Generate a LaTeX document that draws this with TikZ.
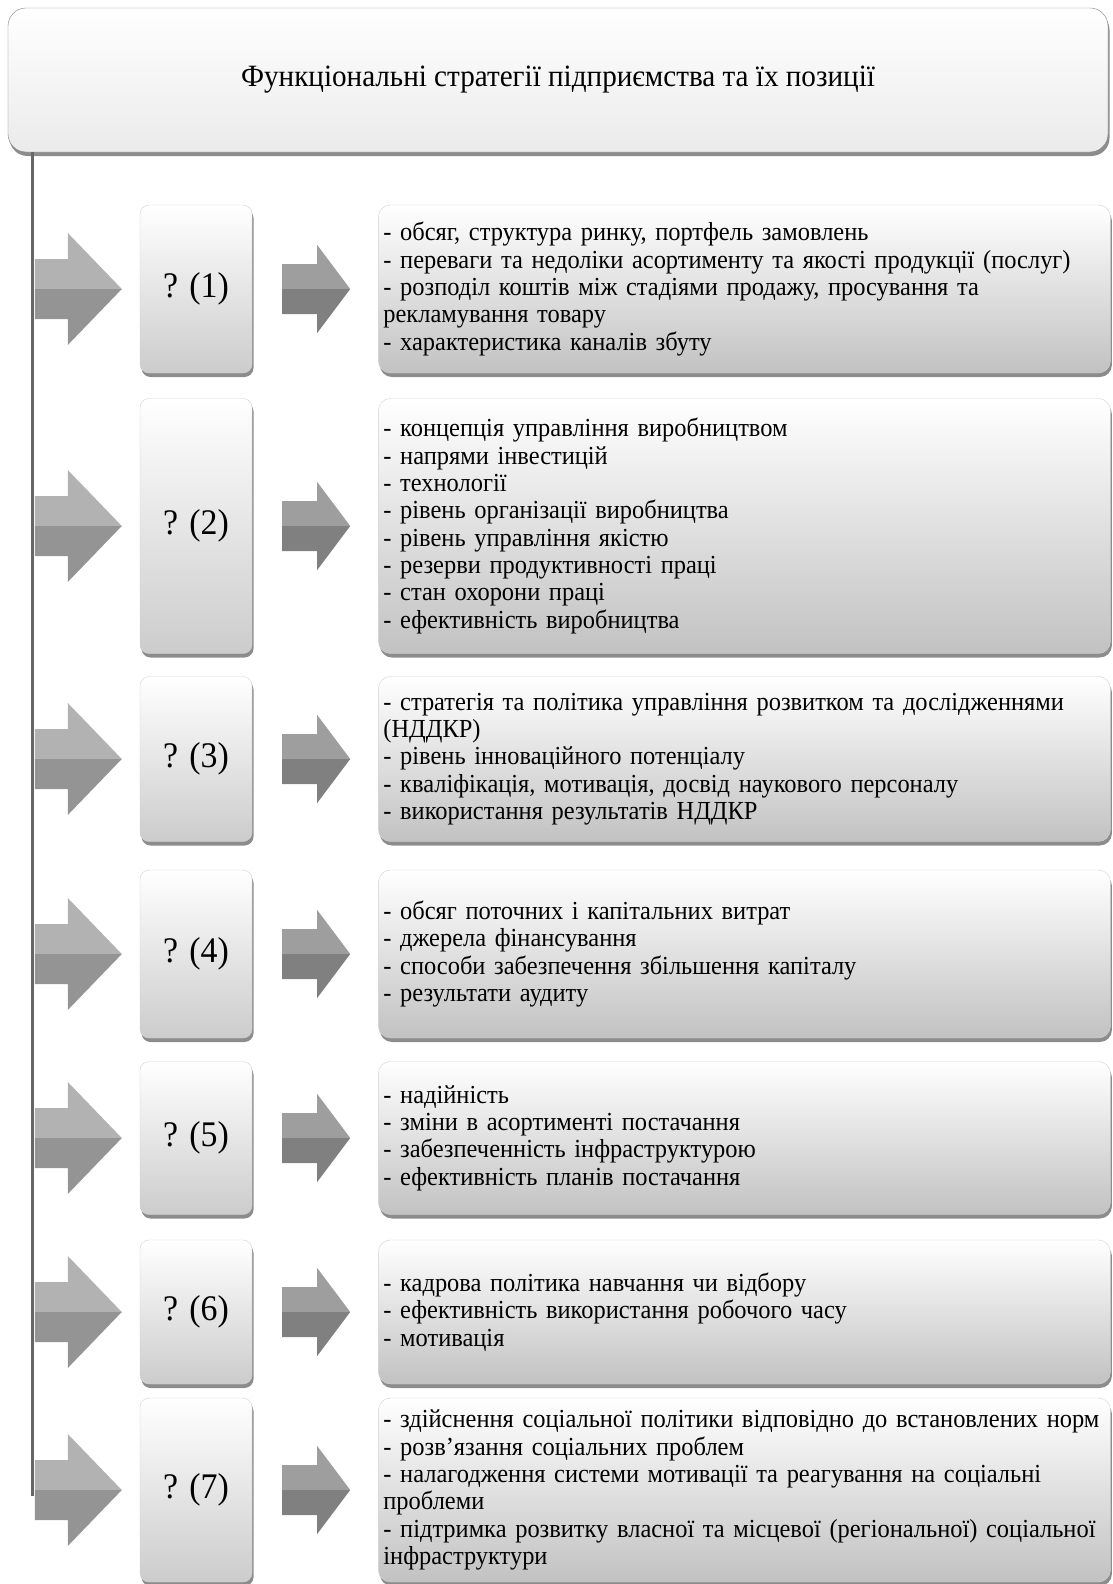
\documentclass[tikz,border=0pt]{standalone}
\usepackage{fontspec}
\setmainfont[FakeStretch=0.94]{Liberation Serif}
\usetikzlibrary{positioning,calc,shadows}

\begin{document}
\begin{tikzpicture}[x=1pt, y=-1pt,
    boxshadow/.style={drop shadow={shadow xshift=1.5pt, shadow yshift=-4pt, fill=black!60, opacity=.75}},
    head/.style={draw=black!50, rounded corners=18pt, top color=white, bottom color=black!8,
        minimum width=1100pt, minimum height=144pt, font=\fontsize{31}{36}\selectfont, boxshadow},
    qbox/.style={draw=black!18, rounded corners=9pt, top color=white, bottom color=black!20,
        minimum width=112pt, font=\fontsize{36}{42}\selectfont, boxshadow},
    infobox/.style={draw=black!18, rounded corners=12pt, top color=white, bottom color=black!24,
        minimum width=730pt, text width=722pt, inner xsep=5pt, align=left,
        font=\fontsize{26}{27.3}\selectfont, boxshadow},
    spine/.style={draw=black!60, line width=3pt},
    bigarr/.pic={
        \fill[black!30] (-87,-30) -- (-54,-30) -- (-54,-56) -- (0,0) -- (-87,0) -- cycle;
        \fill[black!42] (-87,30) -- (-54,30) -- (-54,56) -- (0,0) -- (-87,0) -- cycle;
    },
    smallarr/.pic={
        \fill[black!38] (-68,-25) -- (-33,-25) -- (-33,-44) -- (0,0) -- (-68,0) -- cycle;
        \fill[black!50] (-68,25) -- (-33,25) -- (-33,44) -- (0,0) -- (-68,0) -- cycle;
    }
]
\useasboundingbox (0,0) rectangle (1112,1584);

\node[head] (title) at (558,80) {Функціональні стратегії підприємства та їх позиції};

\foreach \i/\yc/\h in {1/289/168, 2/526/255, 3/759/165, 4/954/168, 5/1138/153, 6/1312/144, 7/1490/184}{
    \node[qbox, minimum height=\h pt] (q\i) at (196,\yc) {? (\i)};
    \pic at ($(q\i.west)+(-18,0)$) {bigarr};
    \pic at ($(q\i.east)+(98,0)$) {smallarr};
}

\node[infobox, minimum height=168pt, right=126pt of q1] (info1) {- обсяг, структура ринку, портфель замовлень\\
- переваги та недоліки асортименту та якості продукції (послуг)\\
- розподіл коштів між стадіями продажу, просування та\\
рекламування товару\\
- характеристика каналів збуту};
\node[infobox, minimum height=255pt, right=126pt of q2] (info2) {- концепція управління виробництвом\\
- напрями інвестицій\\
- технології\\
- рівень організації виробництва\\
- рівень управління якістю\\
- резерви продуктивності праці\\
- стан охорони праці\\
- ефективність виробництва};
\node[infobox, minimum height=165pt, right=126pt of q3] (info3) {- стратегія та політика управління розвитком та дослідженнями\\
(НДДКР)\\
- рівень інноваційного потенціалу\\
- кваліфікація, мотивація, досвід наукового персоналу\\
- використання результатів НДДКР};
\node[infobox, minimum height=168pt, right=126pt of q4] (info4) {- обсяг поточних і капітальних витрат\\
- джерела фінансування\\
- способи забезпечення збільшення капіталу\\
- результати аудиту};
\node[infobox, minimum height=153pt, right=126pt of q5] (info5) {- надійність\\
- зміни в асортименті постачання\\
- забезпеченність інфраструктурою\\
- ефективність планів постачання};
\node[infobox, minimum height=144pt, right=126pt of q6] (info6) {- кадрова політика навчання чи відбору\\
- ефективність використання робочого часу\\
- мотивація};
\node[infobox, minimum height=184pt, right=126pt of q7] (info7) {- здійснення соціальної політики відповідно до встановлених норм\\
- розв'язання соціальних проблем\\
- налагодження системи мотивації та реагування на соціальні\\
проблеми\\
- підтримка розвитку власної та місцевої (регіональної) соціальної\\
інфраструктури};

\coordinate (sp) at ($(title.south west)+(25,0)$);
\draw[spine] (sp) -- ($(sp |- q7.center)+(0,6)$);
\end{tikzpicture}
\end{document}
